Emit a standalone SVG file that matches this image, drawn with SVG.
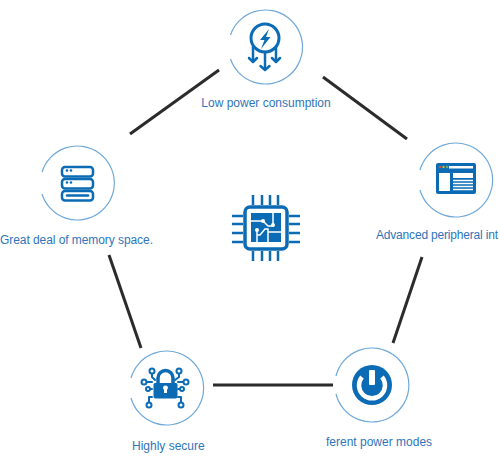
<svg xmlns="http://www.w3.org/2000/svg" width="500" height="457" viewBox="0 0 500 457">
<style>
.ring{fill:none;stroke:#6fa8d8;stroke-width:1.2}
.conn{stroke:#2b2b2b;stroke-width:3;fill:none}
.lbl{font-family:"Liberation Sans",Arial,sans-serif;font-size:12px;fill:#2f75b9}
.s{fill:none;stroke:#0b6cb5;stroke-width:3;stroke-linecap:round;stroke-linejoin:round}
.t{fill:none;stroke:#0b6cb5;stroke-width:2.500;stroke-linecap:round;stroke-linejoin:round}
.th{fill:none;stroke:#0b6cb5;stroke-width:2;stroke-linecap:round;stroke-linejoin:round}
.f{fill:#0b6cb5}
.w{fill:#fff}
.tr{fill:none;stroke:#fff;stroke-width:1.500}
</style>
<rect width="500" height="457" fill="#fff"/>
<g id="connectors">
<line class="conn" x1="130" y1="134" x2="219" y2="70"/>
<line class="conn" x1="323" y1="77" x2="407" y2="139"/>
<line class="conn" x1="422" y1="257" x2="393" y2="343"/>
<line class="conn" x1="213" y1="385" x2="333" y2="385"/>
<line class="conn" x1="109" y1="255" x2="141" y2="348"/>
</g>
<g id="node-low-power">
<path class="ring" d="M230.500 35A37 37 0 1 1 230.500 59"/>
<circle class="s" cx="265" cy="38" r="14"/>
<path class="f" d="M269 29l-9 11h4.500l-3.500 9 9.500-12h-4.500z"/>
<path class="t" d="M253 47v14M265 52v17M276 47v14"/>
<path class="t" d="M249 58l4 4 4-4M260.500 66l4.500 4 4.500-4M272 58l4 4 4-4"/>
<text class="lbl" x="266" y="107" text-anchor="middle">Low power consumption</text>
</g>
<g id="node-memory">
<path class="ring" d="M42 172A37 37 0 1 1 42 194"/>
<g class="t"><rect x="62" y="167" width="31" height="9.500" rx="3"/><rect x="62" y="179" width="31" height="9.500" rx="3"/><rect x="62" y="191" width="31" height="9.500" rx="3"/><path d="M67 195.500h21"/></g>
<circle class="f" cx="67" cy="170.500" r="1.300"/><circle class="f" cx="71" cy="170.500" r="1.300"/><circle class="f" cx="67" cy="182.500" r="1.300"/><circle class="f" cx="71" cy="182.500" r="1.300"/>
<text class="lbl" x="0" y="244" textLength="153">Great deal of memory space.</text>
</g>
<g id="node-peripheral">
<path class="ring" d="M420 170A37 37 0 1 1 420 190"/>
<rect class="f" x="436" y="163" width="40" height="31" rx="2"/>
<rect class="w" x="449" y="166" width="24" height="2.500"/>
<circle cx="440" cy="167" r="1.200" fill="#c9573a"/><circle cx="443.500" cy="167" r="1.200" fill="#d8b23c"/><circle cx="447" cy="167" r="1.200" fill="#6fae5a"/>
<rect class="w" x="439" y="173" width="11" height="18"/>
<rect class="w" x="453" y="173" width="20" height="5"/>
<path d="M453 180.500h20M453 183.500h20M453 186.500h20M453 189.500h20" stroke="#fff" stroke-width="1.500"/>
<text class="lbl" x="376" y="239" textLength="122">Advanced peripheral int</text>
</g>
<g id="node-chip">
<rect x="245" y="207" width="42" height="42" rx="5" fill="none" stroke="#0b6cb5" stroke-width="3.500"/>
<path fill="none" stroke="#0b6cb5" stroke-width="2.500" d="M253 195v10M262 195v10M270 195v10M278 195v10M253 251v10M262 251v10M270 251v10M278 251v10M232 216h11M232 224h11M232 233h11M232 242h11M289 216h11M289 224h11M289 233h11M289 242h11"/>
<rect class="f" x="251" y="213" width="30" height="29"/>
<path class="tr" d="M251 221h12l5 5h5V213M257 231v11M257 235h3l5-6h3v13M268 232h13"/>
<circle class="w" cx="263" cy="221" r="2"/><circle class="w" cx="273" cy="225" r="2"/><circle class="w" cx="257" cy="230" r="2"/>
</g>
<g id="node-secure">
<path class="ring" d="M131 378A37 37 0 1 1 131 398"/>
<path class="f" d="M155 383h21a1.500 1.500 0 0 1 1.500 1.500v12a2 2 0 0 1-2 2h-20a2 2 0 0 1-2-2v-12a1.500 1.500 0 0 1 1.500-1.500z"/>
<path d="M158 384v-6a7.500 7.500 0 0 1 15 0v6" fill="none" stroke="#0b6cb5" stroke-width="3.500"/>
<path class="w" d="M163 388a2.500 2.500 0 0 1 5 0l-1 2v3h-3v-3z"/>
<g class="th">
<circle cx="152" cy="371" r="2.500"/><circle cx="179" cy="371" r="2.500"/><circle cx="144" cy="382" r="2.500"/><circle cx="186" cy="382" r="2.500"/><circle cx="148" cy="389" r="2"/><circle cx="182" cy="389" r="2"/><circle cx="149" cy="405" r="2.500"/><circle cx="181" cy="405" r="2.500"/>
<path d="M152 374v3l3 3M179 374v3l-4 3M147 382h5M183 382h-5M150 389h2M180 389h-2M149 402v-5h3M181 402v-5h-3"/>
</g>
<text class="lbl" x="132" y="450">Highly secure</text>
</g>
<g id="node-power">
<path class="ring" d="M336 376A37 37 0 1 1 336 394"/>
<circle class="f" cx="372" cy="385" r="20"/>
<path d="M362 377a13 13 0 1 0 20 0" fill="none" stroke="#fff" stroke-width="4.500"/>
<rect class="w" x="369" y="370" width="6" height="15" rx="1"/>
<text class="lbl" x="326" y="446">ferent power modes</text>
</g>
</svg>
